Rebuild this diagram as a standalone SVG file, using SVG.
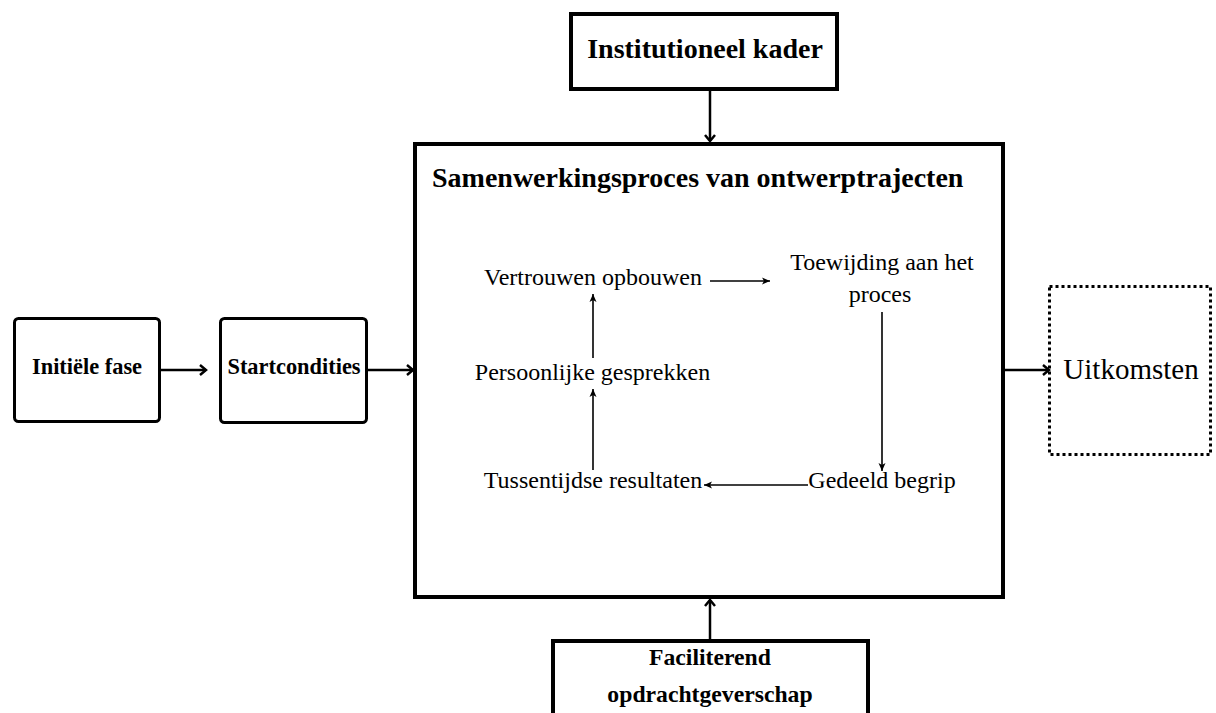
<svg xmlns="http://www.w3.org/2000/svg" width="1216" height="713" viewBox="0 0 1216 713">
<style>
.box{fill:#fff;stroke:#000}
.b{font-family:"Liberation Serif","Times New Roman",serif;font-weight:bold;fill:#000}
.r{font-family:"Liberation Serif","Times New Roman",serif;fill:#000}
.thick{stroke:#000;stroke-width:2.5;fill:none}
.thin{stroke:#000;stroke-width:1.6;fill:none}
</style>
<defs>
<marker id="chev" markerUnits="userSpaceOnUse" markerWidth="14" markerHeight="14" refX="10" refY="7" orient="auto">
<path d="M4,2 L10,7 L4,12" fill="none" stroke="#000" stroke-width="2.5"/>
</marker>
<marker id="tri" markerUnits="userSpaceOnUse" markerWidth="12" markerHeight="10" refX="9" refY="5" orient="auto">
<path d="M1,1.5 L9,5 L1,8.5 L3,5 Z" fill="#000"/>
</marker>
</defs>
<rect width="1216" height="713" fill="#fff"/>

<g id="institutioneel">
<rect class="box" x="571" y="14" width="266" height="75" stroke-width="4"/>
<text class="b" x="705" y="58" font-size="28" text-anchor="middle">Institutioneel kader</text>
</g>

<g id="samenwerking">
<rect class="box" x="415" y="144" width="588" height="453" stroke-width="4"/>
<text class="b" x="432" y="187" font-size="28">Samenwerkingsproces van ontwerptrajecten</text>
</g>

<g id="initiele">
<rect class="box" x="14.5" y="318.5" width="145" height="103" rx="4" stroke-width="3"/>
<text class="b" x="87" y="374" font-size="22.4" text-anchor="middle">Initiële fase</text>
</g>

<g id="startcondities">
<rect class="box" x="220.5" y="318.5" width="146" height="104" rx="4" stroke-width="3"/>
<text class="b" x="294" y="374" font-size="22.4" text-anchor="middle">Startcondities</text>
</g>

<g id="uitkomsten">
<rect class="box" x="1049.5" y="286.5" width="161" height="168" stroke-width="3" stroke-dasharray="3 3"/>
<text class="r" x="1131" y="379" font-size="29" text-anchor="middle">Uitkomsten</text>
</g>

<g id="faciliterend">
<rect class="box" x="553" y="641" width="315" height="80" stroke-width="4"/>
<text class="b" x="710" y="665" font-size="23.7" text-anchor="middle">Faciliterend</text>
<text class="b" x="710" y="702" font-size="23.7" text-anchor="middle">opdrachtgeverschap</text>
</g>

<g id="vertrouwen"><text class="r" x="593" y="285" font-size="24" text-anchor="middle">Vertrouwen opbouwen</text></g>
<g id="toewijding">
<text class="r" x="882" y="270" font-size="24" text-anchor="middle">Toewijding aan het</text>
<text class="r" x="880" y="302" font-size="24" text-anchor="middle">proces</text>
</g>
<g id="gedeeld"><text class="r" x="882" y="488" font-size="24" text-anchor="middle">Gedeeld begrip</text></g>
<g id="tussentijdse"><text class="r" x="593" y="488" font-size="24" text-anchor="middle">Tussentijdse resultaten</text></g>
<g id="persoonlijke"><text class="r" x="592.5" y="380" font-size="24" text-anchor="middle">Persoonlijke gesprekken</text></g>

<g id="connectors">
<line class="thick" x1="161" y1="370" x2="206" y2="370" marker-end="url(#chev)"/>
<line class="thick" x1="368" y1="370" x2="413" y2="370" marker-end="url(#chev)"/>
<line class="thick" x1="710" y1="91" x2="710" y2="141" marker-end="url(#chev)"/>
<line class="thick" x1="710" y1="639" x2="710" y2="600" marker-end="url(#chev)"/>
<line class="thick" x1="1005" y1="370" x2="1049" y2="370" marker-end="url(#chev)"/>
<line class="thin" x1="710" y1="281" x2="770" y2="281" marker-end="url(#tri)"/>
<line class="thin" x1="882" y1="312" x2="882" y2="471" marker-end="url(#tri)"/>
<line class="thin" x1="808" y1="485" x2="704" y2="485" marker-end="url(#tri)"/>
<line class="thin" x1="593" y1="470" x2="593" y2="389" marker-end="url(#tri)"/>
<line class="thin" x1="593" y1="358" x2="593" y2="294" marker-end="url(#tri)"/>
</g>
</svg>
